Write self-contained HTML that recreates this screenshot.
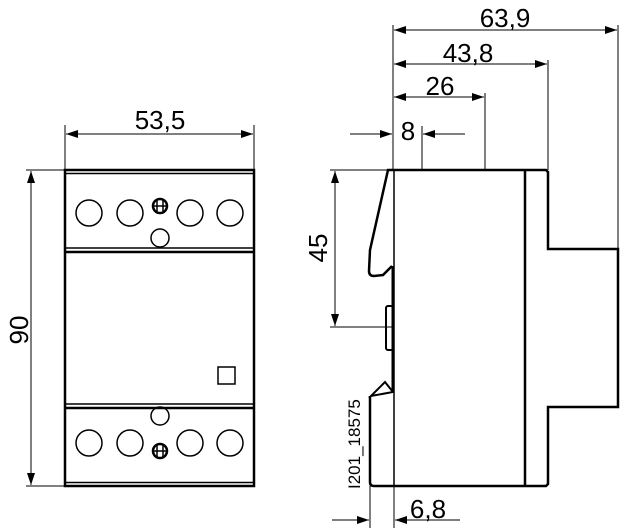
<!DOCTYPE html>
<html><head><style>html,body{margin:0;padding:0;background:#fff}svg{display:block}</style></head><body>
<svg width="621" height="528" viewBox="0 0 621 528" xmlns="http://www.w3.org/2000/svg" font-family="Liberation Sans, sans-serif">
<defs>
<marker id="a" markerWidth="12" markerHeight="8" refX="12" refY="4" orient="auto" markerUnits="userSpaceOnUse"><path d="M0,0 L12,4 L0,8 Z" fill="#000"/></marker>
</defs>
<g stroke="#000" fill="none">
<rect x="65" y="170" width="189" height="316" stroke-width="2.5"/>
<line x1="65" y1="173.5" x2="254" y2="173.5" stroke-width="1.5"/>
<line x1="65" y1="248" x2="254" y2="248" stroke-width="1.5"/>
<line x1="65" y1="252" x2="254" y2="252" stroke-width="2.5"/>
<line x1="65" y1="404" x2="254" y2="404" stroke-width="1.5"/>
<line x1="65" y1="408" x2="254" y2="408" stroke-width="2.5"/>
<line x1="65" y1="482.5" x2="254" y2="482.5" stroke-width="1.5"/>
<g stroke-width="1.5">
<circle cx="89" cy="213" r="13"/><circle cx="130" cy="213" r="13"/><circle cx="190" cy="213" r="13"/><circle cx="230" cy="213" r="13"/>
<circle cx="160" cy="238" r="9"/>
<circle cx="89" cy="443" r="13"/><circle cx="130" cy="443" r="13"/><circle cx="190" cy="443" r="13"/><circle cx="230" cy="443" r="13"/>
<circle cx="160" cy="416" r="9"/>
<rect x="218" y="367" width="17" height="17"/>
</g>
<g stroke-width="2.5"><circle cx="160" cy="206" r="7"/><circle cx="160" cy="451" r="7"/></g>
<g stroke-width="1.5"><line x1="153" y1="206" x2="167" y2="206"/><line x1="157" y1="199" x2="157" y2="213"/><line x1="163" y1="199" x2="163" y2="213"/>
<line x1="153" y1="451" x2="167" y2="451"/><line x1="157" y1="444" x2="157" y2="458"/><line x1="163" y1="444" x2="163" y2="458"/></g>
<g stroke-width="1">
<line x1="65" y1="125" x2="65" y2="170"/><line x1="254" y1="125" x2="254" y2="170"/>
<line x1="85" y1="134" x2="66" y2="134" marker-end="url(#a)"/><line x1="85" y1="134" x2="253" y2="134" marker-end="url(#a)"/>
<line x1="26" y1="170" x2="65" y2="170"/><line x1="26" y1="486" x2="65" y2="486"/>
<line x1="31" y1="300" x2="31" y2="171" marker-end="url(#a)"/><line x1="31" y1="300" x2="31" y2="485" marker-end="url(#a)"/>
</g>
<path d="M394,170 L388,170 L370,250 L369,271 Q369,276 374,276 L383,275 L392,266" stroke-width="2.5"/>
<line x1="394" y1="170" x2="394" y2="486" stroke-width="1.5"/>
<line x1="393" y1="266" x2="393" y2="392" stroke-width="3"/>
<rect x="386" y="306" width="7" height="44" rx="2" stroke-width="2"/>
<path d="M393,392 L385,382 L371,396 Z" stroke-width="2"/>
<path d="M370,396 L370,482 Q370,486 374,486 L546,486 L548,484 L548,407 L618,407 L618,249 L548,249 L548,172 L546,170 L394,170" stroke-width="2.5"/>
<line x1="525" y1="170" x2="525" y2="486" stroke-width="2.5"/>
<g stroke-width="1">
<line x1="393" y1="25" x2="393" y2="170"/>
<line x1="618" y1="25" x2="618" y2="249"/>
<line x1="548" y1="60" x2="548" y2="170"/>
<line x1="485" y1="93" x2="485" y2="170"/>
<line x1="422" y1="126" x2="422" y2="170"/>
<line x1="500" y1="30" x2="394" y2="30" marker-end="url(#a)"/><line x1="500" y1="30" x2="617" y2="30" marker-end="url(#a)"/>
<line x1="470" y1="64" x2="394" y2="64" marker-end="url(#a)"/><line x1="470" y1="64" x2="547" y2="64" marker-end="url(#a)"/>
<line x1="440" y1="97" x2="394" y2="97" marker-end="url(#a)"/><line x1="440" y1="97" x2="484" y2="97" marker-end="url(#a)"/>
<line x1="350" y1="134" x2="392" y2="134" marker-end="url(#a)"/><line x1="465" y1="134" x2="423" y2="134" marker-end="url(#a)"/>
<line x1="330" y1="170" x2="388" y2="170"/><line x1="330" y1="327" x2="394" y2="327"/>
<line x1="335" y1="250" x2="335" y2="171" marker-end="url(#a)"/><line x1="335" y1="250" x2="335" y2="326" marker-end="url(#a)"/>
<line x1="370" y1="486" x2="370" y2="528"/><line x1="394" y1="486" x2="394" y2="528"/>
<line x1="332" y1="520" x2="369" y2="520" marker-end="url(#a)"/><line x1="460" y1="520" x2="395" y2="520" marker-end="url(#a)"/>
</g>
</g>
<g fill="#000" font-size="26">
<text x="160" y="129" text-anchor="middle">53,5</text>
<text x="505" y="27" text-anchor="middle">63,9</text>
<text x="468" y="62" text-anchor="middle">43,8</text>
<text x="440" y="95" text-anchor="middle">26</text>
<text x="408" y="140" text-anchor="middle">8</text>
<text x="428" y="518" text-anchor="middle">6,8</text>
<text transform="translate(28,330) rotate(-90)" text-anchor="middle">90</text>
<text transform="translate(327,248) rotate(-90)" text-anchor="middle">45</text>
<text transform="translate(360,489) rotate(-90)" font-size="17">I201_18575</text>
</g>
</svg>
</body></html>
